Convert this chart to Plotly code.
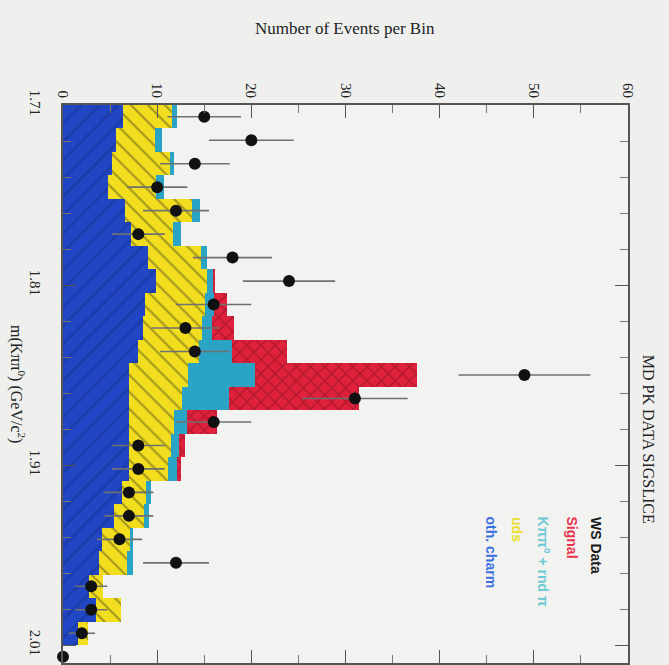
import numpy as np
import plotly.graph_objects as go

# ---- data (23 bins from 1.71 to 2.01 GeV/c^2) ----
m_lo, m_hi, n_bins = 1.71, 2.01, 23
oth_charm = [6.4, 5.6, 5.2, 4.8, 6.6, 7.2, 9.0, 9.9, 8.7, 8.5, 8.0, 7.0,
             7.0, 7.0, 7.0, 7.0, 6.3, 5.4, 4.1, 3.8, 2.8, 3.5, 1.6]
uds = [5.2, 4.2, 6.2, 5.1, 7.1, 4.5, 5.7, 5.4, 6.4, 6.3, 6.4, 6.3,
       5.6, 4.8, 4.5, 4.1, 2.5, 3.2, 3.0, 3.0, 1.4, 2.7, 1.1]
kpipi0_rnd = [0.5, 0.7, 0.4, 0.8, 0.9, 0.8, 0.6, 0.7, 0.9, 1.0, 3.5, 7.1,
              5.0, 1.4, 0.8, 1.0, 0.5, 0.5, 0.3, 0.6, 0.0, 0.0, 0.0]
signal = [0.0, 0.0, 0.0, 0.0, 0.0, 0.0, 0.0, 0.1, 1.4, 2.4, 5.9, 17.2,
          13.8, 3.2, 0.7, 0.4, 0.0, 0.0, 0.0, 0.0, 0.0, 0.0, 0.0]
# WS data: 23 bins plus one overflow entry
ws_data = [15, 20, 14, 10, 12, 8, 18, 24, 16, 13, 14, 49,
           31, 16, 8, 8, 7, 7, 6, 12, 3, 3, 2, 0]
ws_err = [3.9, 4.5, 3.7, 3.2, 3.5, 2.8, 4.2, 4.9, 4.0, 3.6, 3.7, 7.0,
          5.6, 4.0, 2.8, 2.8, 2.6, 2.6, 2.4, 3.5, 1.7, 1.7, 1.4, 0.0]

count_ticks = [0, 10, 20, 30, 40, 50, 60]
mass_ticks = [1.71, 1.81, 1.91, 2.01]
mass_ticktext = ["1.71", "1.81", "1.91", "2.01"]

bw = (m_hi - m_lo) / n_bins
centers = m_lo + bw * (np.arange(len(ws_data)) + 0.5)
hcent = centers[:n_bins]

fig = go.Figure()

def add_bar(vals, color, shape, fg, size, sol):
    pat = dict(shape=shape, fgcolor=fg, size=size, solidity=sol) if shape else dict(shape="")
    fig.add_trace(go.Bar(
        y=hcent, x=vals, width=bw, orientation="h",
        marker=dict(color=color, line=dict(width=0), pattern=pat),
        showlegend=False, hoverinfo="skip"))

add_bar(oth_charm, "#2146c4", "/", "#16308f", 13, 0.2)
add_bar(uds, "#f2de1e", "\\", "#55521c", 12, 0.18)
add_bar(kpipi0_rnd, "#2aa3c4", "", None, None, None)
add_bar(signal, "#e0213c", "x", "#8a1222", 10, 0.28)

fig.add_trace(go.Scatter(
    y=centers, x=ws_data, mode="markers",
    marker=dict(color="#111111", size=12),
    error_x=dict(type="data", array=ws_err, color="#707070", thickness=1.6, width=0),
    cliponaxis=False, showlegend=False, hoverinfo="skip"))

serif = "Liberation Serif"
L, R, T, B = 63, 41, 105, 0
W, H = 669, 665
pw, ph = W - L - R, H - T - B

def px(x):
    return (x - L) / pw

def py(y):
    return (H - B - y) / ph

fig.update_layout(
    width=W, height=H,
    margin=dict(l=L, r=R, t=T, b=B, pad=0),
    paper_bgcolor="#eff0ee", plot_bgcolor="#f2f3f1",
    barmode="stack", bargap=0,
    xaxis=dict(range=[0, 60], side="top", tickvals=count_ticks, tickangle=90,
               ticks="inside", ticklen=13, tickwidth=1.2, tickcolor="#555",
               minor=dict(dtick=5, ticks="inside", ticklen=8, tickcolor="#777"),
               showline=True, linecolor="#555", linewidth=1.5, mirror="ticks",
               showgrid=False, zeroline=False,
               tickfont=dict(family=serif, size=15, color="#222")),
    yaxis=dict(range=[2.02, 1.71], tickvals=mass_ticks, ticktext=mass_ticktext,
               tickangle=90, ticks="inside", ticklen=13, tickwidth=1.2, tickcolor="#555",
               minor=dict(tick0=1.71, dtick=0.02, ticks="inside", ticklen=8, tickcolor="#777"),
               showline=True, linecolor="#555", linewidth=1.5, mirror="ticks",
               showgrid=False, zeroline=False, ticklabelstandoff=13,
               tickfont=dict(family=serif, size=15, color="#222")),
    showlegend=False,
)

ann = [
    dict(text="Number of Events per Bin", x=px(345), y=py(28), textangle=0,
         font=dict(family=serif, size=17, color="#222")),
    dict(text="m(Kππ<sup>0</sup>) (GeV/c<sup>2</sup>)", x=px(18), y=py(385), textangle=90,
         font=dict(family=serif, size=16, color="#222")),
    dict(text="MD PK DATA SIGSLICE", x=px(648), y=py(440), textangle=90,
         font=dict(family=serif, size=16, color="#222")),
]
for a in ann:
    fig.add_annotation(xref="paper", yref="paper", showarrow=False,
                       xanchor="center", yanchor="middle", **a)

legend_items = [("<b>WS Data</b>", "#1a1a1a", 596), ("<b>Signal</b>", "#e8324e", 572),
                ("<b>Kππ<sup>0</sup> + rnd π</b>", "#6cc9d4", 544), ("<b>uds</b>", "#e8e030", 517),
                ("<b>oth. charm</b>", "#3a6fe0", 491)]
for txt, col, xx in legend_items:
    fig.add_annotation(xref="paper", yref="paper", showarrow=False, text=txt,
                       x=px(xx), y=py(516), xanchor="center", yanchor="top", textangle=90,
                       font=dict(family="Liberation Sans", size=14, color=col))

fig.write_html("out.html")
